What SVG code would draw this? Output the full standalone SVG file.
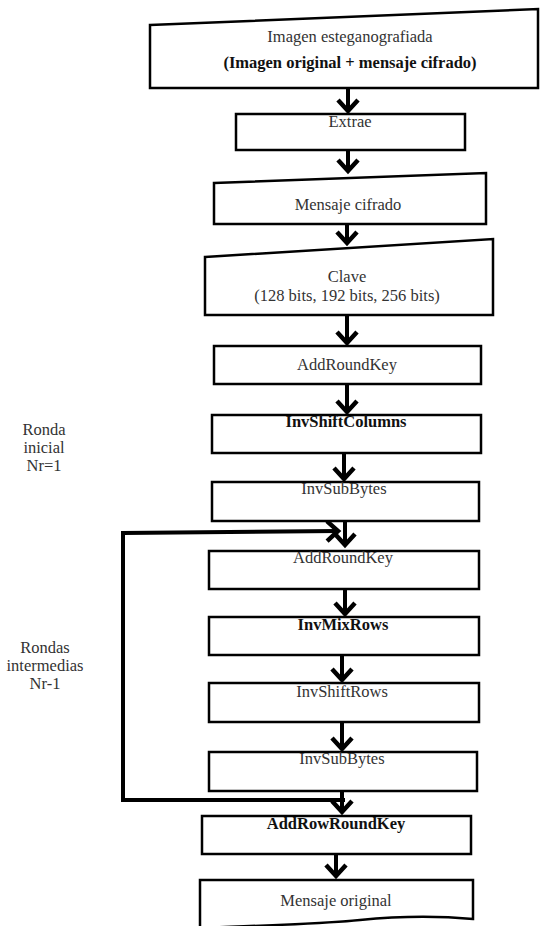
<svg xmlns="http://www.w3.org/2000/svg" width="541" height="926" viewBox="0 0 541 926">
<defs>
<style>
.box{fill:#fff;stroke:#000;stroke-width:2.5}
.t{font-family:"Liberation Serif","Times New Roman",serif;font-size:16.5px;fill:#333;text-anchor:middle}
.b{font-weight:bold;fill:#111}
.c{fill:none;stroke:#000;stroke-width:4}
</style>
<marker id="ah" markerUnits="userSpaceOnUse" viewBox="-4 -14 20 28" markerWidth="20" markerHeight="28" refX="11" refY="0" orient="auto">
<path d="M0,-10 L11,0 L0,10" fill="none" stroke="#000" stroke-width="4.5"/>
</marker>
</defs>
<rect width="541" height="926" fill="#fff"/>
<g id="connectors">
<line class="c" x1="348" y1="88" x2="348" y2="111" marker-end="url(#ah)"/>
<line class="c" x1="348" y1="150" x2="348" y2="171" marker-end="url(#ah)"/>
<line class="c" x1="347" y1="224" x2="347" y2="243" marker-end="url(#ah)"/>
<line class="c" x1="347" y1="315" x2="347" y2="343" marker-end="url(#ah)"/>
<line class="c" x1="347" y1="384" x2="347" y2="412" marker-end="url(#ah)"/>
<line class="c" x1="344" y1="453" x2="344" y2="479" marker-end="url(#ah)"/>
<line class="c" x1="345" y1="521" x2="345" y2="545" marker-end="url(#ah)"/>
<line class="c" x1="345" y1="589" x2="345" y2="614" marker-end="url(#ah)"/>
<line class="c" x1="342" y1="655" x2="342" y2="680" marker-end="url(#ah)"/>
<line class="c" x1="342" y1="722" x2="342" y2="749" marker-end="url(#ah)"/>
<line class="c" x1="342" y1="791" x2="342" y2="812" marker-end="url(#ah)"/>
<line class="c" x1="336" y1="854" x2="336" y2="876" marker-end="url(#ah)"/>
<polyline class="c" points="345,800 123,800 123,533 338,531" marker-end="url(#ah)"/>
</g>
<g id="n1">
<path class="box" d="M150,25 L538,9 L538,88 L150,88 Z"/>
<text class="t" x="350" y="42">Imagen esteganografiada</text>
<text class="t b" x="350" y="68">(Imagen original + mensaje cifrado)</text>
</g>
<g id="n2">
<rect class="box" x="236" y="114" width="229" height="36"/>
<text class="t" x="350" y="127">Extrae</text>
</g>
<g id="n3">
<path class="box" d="M214,183 L486,173 L486,224 L214,224 Z"/>
<text class="t" x="348" y="210">Mensaje cifrado</text>
</g>
<g id="n4">
<path class="box" d="M205,257 L493,239 L493,315 L205,315 Z"/>
<text class="t" x="347" y="282">Clave</text>
<text class="t" x="347" y="301">(128 bits, 192 bits, 256 bits)</text>
</g>
<g id="n5">
<rect class="box" x="214" y="346" width="267" height="38"/>
<text class="t" x="347" y="370">AddRoundKey</text>
</g>
<g id="n6">
<rect class="box" x="212" y="415" width="269" height="38"/>
<text class="t b" x="346" y="427">InvShiftColumns</text>
</g>
<g id="n7">
<rect class="box" x="212" y="482" width="267" height="39"/>
<text class="t" x="344" y="494">InvSubBytes</text>
</g>
<g id="n8">
<rect class="box" x="209" y="551" width="270" height="38"/>
<text class="t" x="343" y="563">AddRoundKey</text>
</g>
<g id="n9">
<rect class="box" x="209" y="617" width="270" height="38"/>
<text class="t b" x="343" y="630">InvMixRows</text>
</g>
<g id="n10">
<rect class="box" x="209" y="683" width="270" height="39"/>
<text class="t" x="342" y="697">InvShiftRows</text>
</g>
<g id="n11">
<rect class="box" x="209" y="752" width="268" height="39"/>
<text class="t" x="342" y="764">InvSubBytes</text>
</g>
<g id="n12">
<rect class="box" x="202" y="816" width="269" height="38"/>
<text class="t b" x="336" y="829">AddRowRoundKey</text>
</g>
<g id="n13">
<path class="box" d="M200,928 L200,880 L473,880 L473,919 C440,916 400,916 360,920 C320,924 250,926 200,928 Z"/>
<text class="t" x="336" y="906">Mensaje original</text>
</g>
<g id="labels">
<text class="t" x="44" y="435">Ronda</text>
<text class="t" x="44" y="453">inicial</text>
<text class="t" x="44" y="471">Nr=1</text>
<text class="t" x="45" y="653">Rondas</text>
<text class="t" x="45" y="671">intermedias</text>
<text class="t" x="45" y="689">Nr-1</text>
</g>
</svg>
